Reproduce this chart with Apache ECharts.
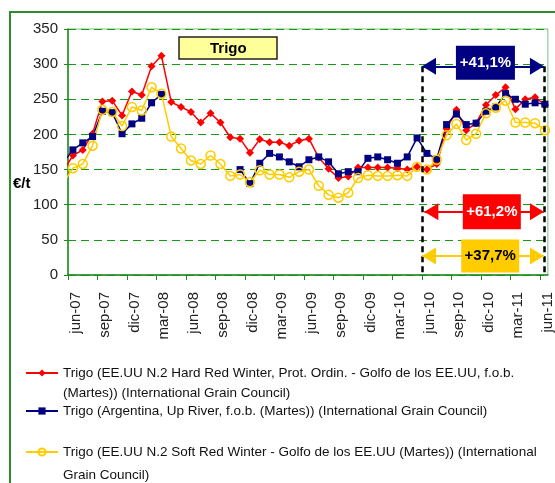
<!DOCTYPE html>
<html style="height: 100%">
<head>
    <meta charset="utf-8">
    <script src="https://cdn.jsdelivr.net/npm/echarts@6/dist/echarts.min.js"></script>
    <title>Trigo</title>
</head>
<body style="height: 100%; margin: 0">
<div id="container" style="width: 555px; height: 483px"></div>
<script type="text/javascript">
    // meses: may-07 queda fuera del grafico (solo se ve el tramo de linea)
    let meses = ['may-07','jun-07','jul-07','ago-07','sep-07','oct-07','nov-07','dic-07','ene-08','feb-08','mar-08',
        'abr-08','may-08','jun-08','jul-08','ago-08','sep-08','oct-08','nov-08','dic-08','ene-09','feb-09','mar-09',
        'abr-09','may-09','jun-09','jul-09','ago-09','sep-09','oct-09','nov-09','dic-09','ene-10','feb-10','mar-10',
        'abr-10','may-10','jun-10','jul-10','ago-10','sep-10','oct-10','nov-10','dic-10','ene-11','feb-11','mar-11',
        'abr-11','may-11','jun-11']
    let etiquetasX = ['jun-07','sep-07','dic-07','mar-08','jun-08','sep-08','dic-08','mar-09','jun-09',
        'sep-09','dic-09','mar-10','jun-10','sep-10','dic-10','mar-11','jun-11']

    let hardRedWinter = [148, 170, 178, 201, 247, 248, 227, 261, 256, 297, 312, 246, 239, 232, 217, 230, 217, 196,
        194, 174, 193, 189, 189, 184, 191, 194, 167, 151, 138, 140, 153, 153, 153, 153, 152, 150, 154, 150, 158,
        208, 235, 206, 216, 242, 256, 267, 236, 250, 253, 242]
    let argentina = [160, 178, 188, 197, 233, 231, 201, 215, 223, 245, 257, null, null, null, null, null, null, null,
        150, 130, 159, 173, 168, 161, 154, 164, 168, 161, 144, 147, 147, 166, 168, 164, 159, 168, 195, 173, 165,
        214, 229, 214, 216, 233, 239, 258, 250, 243, 245, 243]
    let softRedWinter = [130, 152, 158, 184, 235, 232, 212, 239, 234, 267, 258, 197, 180, 163, 158, 170, 158, 141,
        143, 132, 149, 143, 143, 139, 147, 150, 127, 114, 110, 117, 138, 142, 141, 141, 142, 141, 154, 150, 164,
        199, 215, 192, 201, 230, 238, 248, 217, 217, 216, 206]

    let variaciones = ['+41,1%', '+61,2%', '+37,7%']

    let nombres = [
        'Trigo (EE.UU N.2 Hard Red Winter, Prot. Ordin. - Golfo de los EE.UU, f.o.b. (Martes)) (International Grain Council)',
        'Trigo (Argentina, Up River, f.o.b. (Martes)) (International Grain Council)',
        'Trigo (EE.UU N.2 Soft Red Winter - Golfo de los EE.UU (Martes)) (International Grain Council)'
    ]
    // la primera linea vacia deja el icono a la altura de la primera linea de texto
    let leyendas = [
        '\nTrigo (EE.UU N.2 Hard Red Winter, Prot. Ordin. - Golfo de los EE.UU, f.o.b.\n(Martes)) (International Grain Council)',
        'Trigo (Argentina, Up River, f.o.b. (Martes)) (International Grain Council)',
        '\nTrigo (EE.UU N.2 Soft Red Winter - Golfo de los EE.UU (Martes)) (International\nGrain Council)'
    ]

    // x = indice del mes - 0.5, asi jun-07 cae en el centro de su primer mes
    function serie(valores) {
        return valores.map((v, k) => [k - 0.5, v === null ? '-' : v])
    }
    let ticks = etiquetasX.map((e, j) => j * 3)

    let verde = '#1b8a1b'
    let fuenteLeyenda = {fontFamily: 'Liberation Sans, Arial, sans-serif', fontSize: 13.5, color: '#111'}

    let dom = document.getElementById('container')
    let chart = echarts.init(dom)
    chart.setOption({
        animation: false,
        textStyle: {fontFamily: 'Liberation Sans, Arial, sans-serif'},
        title: {
            text: 'Trigo', left: 179, top: 37, padding: [4, 31, 3, 31],
            backgroundColor: '#FFFF99', borderColor: '#222', borderWidth: 1.5,
            textStyle: {fontSize: 15, fontWeight: 'bold', color: '#000'}
        },
        grid: {left: 68, top: 29, right: 7, bottom: 208, show: true, borderColor: '#7cbf7c', borderWidth: 1},
        xAxis: {
            type: 'value', min: 0, max: 48.8, interval: 3,
            axisLine: {lineStyle: {color: verde, width: 1.5}},
            axisTick: {customValues: ticks, length: 5, lineStyle: {color: verde}},
            axisLabel: {
                customValues: ticks, rotate: 90, margin: 17, align: 'right', verticalAlign: 'top',
                fontSize: 15, color: '#222',
                formatter: v => etiquetasX[Math.round(v / 3)]
            },
            splitLine: {show: false}
        },
        yAxis: {
            type: 'value', min: 0, max: 350, interval: 50,
            axisLine: {show: true, lineStyle: {color: verde, width: 1.5}},
            axisTick: {show: true, length: 4, lineStyle: {color: verde}},
            axisLabel: {fontSize: 15, margin: 10, color: '#222'},
            splitLine: {lineStyle: {type: [8, 5], color: '#159915'}}
        },
        legend: [
            {left: 25, top: 343, orient: 'vertical', padding: 0, itemWidth: 32, itemHeight: 9,
                data: [{name: nombres[0], textStyle: {lineHeight: 20}}],
                formatter: () => leyendas[0], textStyle: fuenteLeyenda},
            {left: 25, top: 401, orient: 'vertical', padding: 0, itemWidth: 32, itemHeight: 9,
                data: [{name: nombres[1], textStyle: {lineHeight: 20}}],
                formatter: () => leyendas[1], textStyle: fuenteLeyenda},
            {left: 25, top: 417.5, orient: 'vertical', padding: 0, itemWidth: 32, itemHeight: 9,
                data: [{name: nombres[2], textStyle: {lineHeight: 23}}],
                formatter: () => leyendas[2], textStyle: fuenteLeyenda}
        ],
        graphic: [
            {type: 'rect', shape: {x: 10, y: 12, width: 600, height: 600},
                style: {fill: 'none', stroke: '#2e8b2e', lineWidth: 2}, silent: true},
            {type: 'text', x: 13, y: 184,
                style: {text: '€/t', fontSize: 15, fontWeight: 'bold', fill: '#000', verticalAlign: 'middle',
                    fontFamily: 'Liberation Sans, Arial, sans-serif'}}
        ],
        series: [
            {
                name: nombres[0], type: 'line', data: serie(hardRedWinter),
                symbol: 'diamond', symbolSize: 8,
                lineStyle: {color: '#FF0000', width: 1.5}, itemStyle: {color: '#FF0000'}
            },
            {
                name: nombres[1], type: 'line', data: serie(argentina),
                symbol: 'rect', symbolSize: 7,
                lineStyle: {color: '#000080', width: 1.5}, itemStyle: {color: '#000080'}
            },
            {
                name: nombres[2], type: 'line', data: serie(softRedWinter),
                symbol: 'circle', symbolSize: 9,
                lineStyle: {color: '#FFCC00', width: 1.5},
                itemStyle: {color: 'rgba(255,255,255,0)', borderColor: '#FFCC00', borderWidth: 1.5}
            },
            {
                // lineas verticales discontinuas del periodo jun-10 / jun-11
                type: 'line', data: [], z: 3,
                markLine: {
                    silent: true, symbol: ['none', 'none'], label: {show: false},
                    lineStyle: {type: [6, 4], color: '#000', width: 2.5},
                    data: [
                        [{coord: [36, 297]}, {coord: [36, 0]}],
                        [{coord: [48.4, 297]}, {coord: [48.4, 0]}]
                    ]
                }
            },
            {
                // flechas y cajas de variacion
                type: 'line', data: [], z: 4,
                markLine: {
                    silent: true, symbol: ['triangle', 'triangle'], symbolSize: [17, 14],
                    symbolOffset: [[0, 7], [0, 7]], label: {show: false},
                    data: [
                        [{coord: [36, 297], lineStyle: {color: '#000080', width: 2, type: 'solid'}}, {coord: [48.4, 297]}],
                        [{coord: [36.24, 90], lineStyle: {color: '#FF0000', width: 2, type: 'solid'}}, {coord: [48.4, 90]}],
                        [{coord: [36, 27], lineStyle: {color: '#FFCC00', width: 2, type: 'solid'}}, {coord: [48.4, 27]}]
                    ]
                },
                markPoint: {
                    silent: true, symbol: 'rect',
                    label: {show: true, position: 'inside', fontSize: 15, fontWeight: 'bold'},
                    data: [
                        {coord: [42.45, 302], symbolSize: [59, 34], itemStyle: {color: '#000080'},
                            label: {formatter: variaciones[0], color: '#fff'}},
                        {coord: [43.1, 90], symbolSize: [58, 35], itemStyle: {color: '#FF0000'},
                            label: {formatter: variaciones[1], color: '#fff'}},
                        {coord: [42.94, 27], symbolSize: [58, 33], itemStyle: {color: '#FFCC00'},
                            label: {formatter: variaciones[2], color: '#000'}}
                    ]
                }
            }
        ]
    }, true)
</script>
</body>
</html>
